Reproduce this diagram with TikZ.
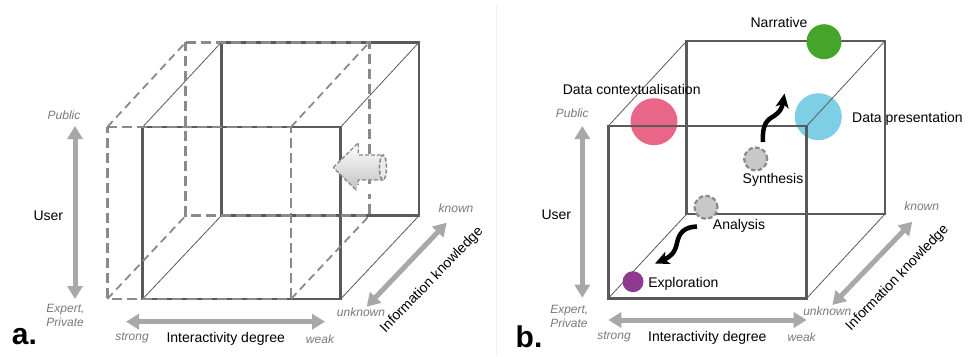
\documentclass[tikz,border=0pt]{standalone}
\usepackage{fontspec}
\setmainfont{Liberation Sans}
\usetikzlibrary{arrows.meta}
\definecolor{edgec}{HTML}{5A5A5A}
\definecolor{dashc}{HTML}{8A8A8A}
\definecolor{axisc}{HTML}{A8A8A8}
\definecolor{labc}{HTML}{7A7A7A}
\definecolor{narrc}{HTML}{45A52A}
\definecolor{ctxc}{HTML}{EA6689}
\definecolor{presc}{HTML}{7ECFE6}
\definecolor{explc}{HTML}{8E3A8E}
\definecolor{procc}{HTML}{C8C8C8}
\definecolor{sepc}{HTML}{F0F0F0}
\begin{document}
\begin{tikzpicture}[x=1pt,y=-1pt,
  face/.style={draw=edgec, line width=2.5pt, line join=miter},
  depthline/.style={draw=edgec, line width=0.8pt},
  dface/.style={draw=dashc, line width=2.8pt, dash pattern=on 10pt off 5pt},
  ddepth/.style={draw=dashc, line width=1.8pt, dash pattern=on 8pt off 5pt},
  axis/.style={draw=axisc, line width=5pt, {Triangle[width=15pt,length=13pt]}-{Triangle[width=15pt,length=13pt]}},
  smalllab/.style={font=\fontsize{12}{14}\selectfont\itshape, text=labc, inner sep=0pt},
  biglab/.style={font=\fontsize{14}{16}\selectfont, inner sep=0pt},
  panellab/.style={font=\fontsize{30}{32}\selectfont\bfseries, inner sep=0pt},
  stage/.style={circle, inner sep=0pt},
  procstage/.style={circle, inner sep=0pt, fill=procc, draw=dashc, line width=2.2pt, dash pattern=on 4.5pt off 2.5pt, minimum size=23pt},
  flow/.style={draw=black, line width=4.5pt, -{Stealth[length=14pt,width=13pt,inset=3.5pt]}}
]
\useasboundingbox (0,0) rectangle (968,356);
\fill[white] (0,0) rectangle (968,356);

% separator
\draw[sepc, line width=1.5pt] (496.7,5) -- (496.7,356);

% ================= Panel a =================
\coordinate (aFTL) at (142.7,127);
\coordinate (aFTR) at (340.7,127);
\coordinate (aFBR) at (340.7,299);
\coordinate (aFBL) at (142.7,299);
\coordinate (aBTL) at (221.3,42.3);
\coordinate (aBTR) at (419,42.3);
\coordinate (aBBR) at (419,215.7);
\coordinate (aBBL) at (221.3,215.7);
\coordinate (dFTL) at (107.3,127);
\coordinate (dFTR) at (291,127);
\coordinate (dFBR) at (291,299);
\coordinate (dFBL) at (107.3,299);
\coordinate (dBTL) at (185.7,42.3);
\coordinate (dBTR) at (369.3,42.3);
\coordinate (dBBR) at (369.3,215.7);
\coordinate (dBBL) at (185.7,215.7);

% solid cube
\draw[depthline] (aFTL) -- (aBTL) (aFTR) -- (aBTR) (aFBR) -- (aBBR) (aFBL) -- (aBBL);
\draw[face] (aBTL) rectangle (aBBR);
\draw[face] (aFTL) rectangle (aFBR);

% dashed cube
\draw[ddepth] (dFTL) -- (dBTL) (dFTR) -- (dBTR) (dFBR) -- (dBBR) (dFBL) -- (dBBL);
\draw[dface] (dBTL) -- (dBTR) -- (dBBR) -- (dBBL) -- cycle;
\draw[dface] (dFTL) -- (dFTR) -- (dFBR) -- (dFBL) -- cycle;

% hollow 3D arrow
\coordinate (hTip) at (333.3,167.5);
\shade[top color=white, bottom color=gray!50, draw=dashc, line width=1.3pt, dash pattern=on 4pt off 2pt]
  (hTip) -- (358.3,142.7) -- (358.3,155) -- (383,155) -- (383,180) -- (358.3,180) -- (358.3,192.3) -- cycle;
\draw[dashc, line width=1.6pt, dash pattern=on 4pt off 2pt, fill=gray!15] (383,167.5) ellipse [x radius=3.5pt, y radius=12.5pt];
\fill[white] (357,185) rectangle (384,194);

% axes a
\coordinate (aUtop) at (75,126);
\coordinate (aUbot) at (75,299);
\draw[axis] (aUtop) -- (aUbot);
\coordinate (aIleft) at (126,321.7);
\coordinate (aIright) at (325,321.7);
\draw[axis] (aIleft) -- (aIright);
\coordinate (aKlow) at (366.7,306.7);
\coordinate (aKhigh) at (446.7,222.7);
\draw[axis] (aKlow) -- (aKhigh);

\node[smalllab] (aPublic) at (64,115) {Public};
\node[biglab] (aUser) at (48.3,216) {User};
\node[smalllab, align=left, font=\fontsize{12}{14}\selectfont\itshape] (aExpert) at (65.5,315.7) {Expert,\\Private};
\node[smalllab] (aStrong) at (132,337.7) {strong};
\node[biglab] (aInter) at (225.7,339) {Interactivity degree};
\node[smalllab] (aWeak) at (320,339) {weak};
\node[smalllab] (aKnown) at (456,208.3) {known};
\node[smalllab] (aUnknown) at (361,312.7) {unknown};
\node[biglab, rotate=46] (aInfo) at (432,280) {Information knowledge};
\node[panellab] (aPanel) at (24.5,337) {a.};

% ================= Panel b =================
\coordinate (bFTL) at (608.3,126);
\coordinate (bFTR) at (806.7,126);
\coordinate (bFBR) at (806.7,298.3);
\coordinate (bFBL) at (608.3,298.3);
\coordinate (bBTL) at (686.7,41);
\coordinate (bBTR) at (885,41);
\coordinate (bBBR) at (885,214);
\coordinate (bBBL) at (686.7,214);

% circles behind lines
\node[stage, fill=ctxc, minimum size=47pt] (ctx) at (654,121.7) {};
\node[stage, fill=presc, minimum size=47pt] (pres) at (818.3,116.7) {};

\draw[depthline] (bFTL) -- (bBTL) (bFTR) -- (bBTR) (bFBR) -- (bBBR) (bFBL) -- (bBBL);
\draw[face] (bBTL) rectangle (bBBR);
\draw[face] (bFTL) rectangle (bFBR);

% circles in front
\node[stage, fill=narrc, minimum size=35pt] (narr) at (824,41.7) {};
\node[stage, fill=explc, minimum size=21pt] (expl) at (633,281.7) {};
\node[procstage] (synth) at (755.7,159) {};
\node[procstage] (anal) at (706,207.3) {};

\node[biglab] (narrL) at (779,22.7) {Narrative};
\node[biglab] (ctxL) at (631.7,89) {Data contextualisation};
\node[biglab, anchor=west] (presL) at (852,119) {Data presentation};
\node[biglab] (synthL) at (773,180) {Synthesis};
\node[biglab] (analL) at (739,226) {Analysis};
\node[biglab] (explL) at (683.3,283.7) {Exploration};

% flows
\coordinate (synthStart) at (763,142);
\coordinate (synthEnd) at (784.5,93.5);
\draw[flow] (synthStart) .. controls (762,124) and (767,120) .. (774,116) .. controls (780,112) and (782,108) .. (synthEnd);
\coordinate (analStart) at (697,226.5);
\coordinate (analEnd) at (655,263.5);
\draw[flow] (analStart) .. controls (684,227) and (679,233) .. (677,243) .. controls (675,253) and (670,257) .. (analEnd);

% axes b
\coordinate (bUtop) at (582.3,126);
\coordinate (bUbot) at (582.3,297.7);
\draw[axis] (bUtop) -- (bUbot);
\coordinate (bIleft) at (608.3,320);
\coordinate (bIright) at (806.7,320);
\draw[axis] (bIleft) -- (bIright);
\coordinate (bKlow) at (832.3,305);
\coordinate (bKhigh) at (912.3,221.7);
\draw[axis] (bKlow) -- (bKhigh);

\node[smalllab] (bPublic) at (572.3,113.7) {Public};
\node[biglab] (bUser) at (556.3,215) {User};
\node[smalllab, align=left, font=\fontsize{12}{14}\selectfont\itshape] (bExpert) at (569.3,316.7) {Expert,\\Private};
\node[smalllab] (bStrong) at (614,336.7) {strong};
\node[biglab] (bInter) at (707.3,337.7) {Interactivity degree};
\node[smalllab] (bWeak) at (801.7,337.7) {weak};
\node[smalllab] (bKnown) at (921.7,206.7) {known};
\node[smalllab] (bUnknown) at (827.3,311) {unknown};
\node[biglab, rotate=46] (bInfo) at (897.5,278) {Information knowledge};
\node[panellab] (bPanel) at (529,337) {b.};
\end{tikzpicture}
\end{document}
